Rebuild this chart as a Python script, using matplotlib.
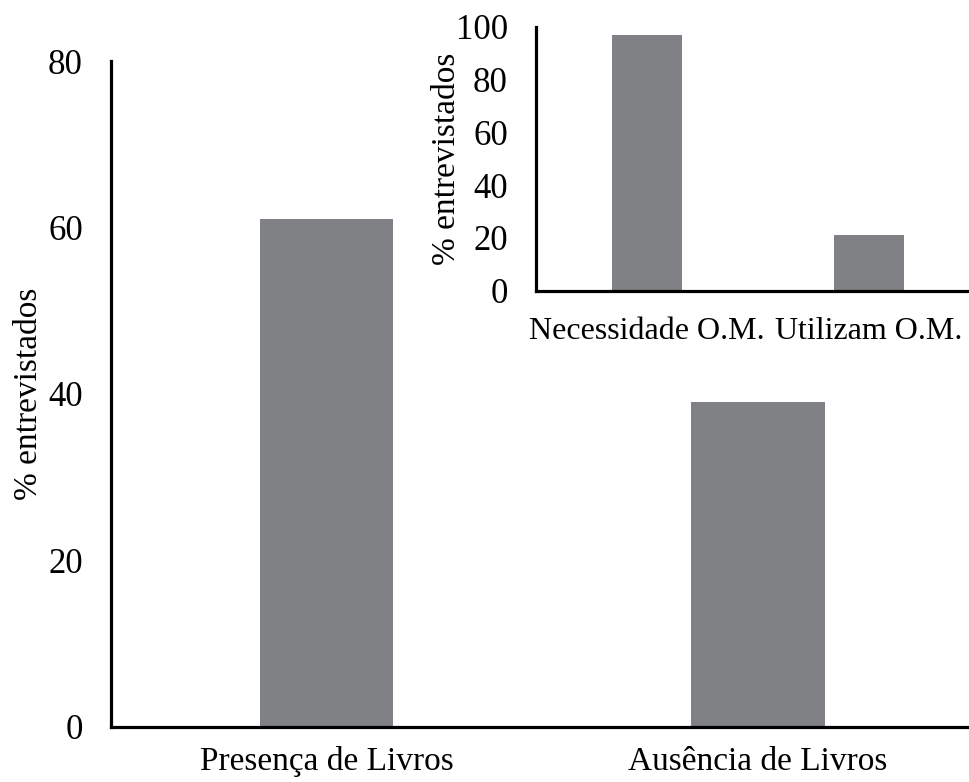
import matplotlib.pyplot as plt

plt.rcParams['font.family'] = ['Liberation Serif', 'DejaVu Serif']

# main chart
livros_cats = ['Presença de Livros', 'Ausência de Livros']
livros_vals = [61, 39]

# inset chart
om_cats = ['Necessidade O.M.', 'Utilizam O.M.']
om_vals = [97, 21]

bar_color = '#808184'
W, H = 970, 782

fig = plt.figure(figsize=(W / 100, H / 100), dpi=100)

def px_axes(left, bottom, right, top):
    return fig.add_axes([left / W, 1 - bottom / H, (right - left) / W, (bottom - top) / H])

def style(ax, fs):
    for s in ['top', 'right']:
        ax.spines[s].set_visible(False)
    for s in ['left', 'bottom']:
        ax.spines[s].set_linewidth(2.3)
    ax.tick_params(axis='both', length=0, labelsize=fs)

ax = px_axes(110.7, 726.7, 974, 61)
ax.bar(range(len(livros_cats)), livros_vals, width=0.31, color=bar_color)
ax.set_xlim(-0.5, 1.5)
ax.set_ylim(0, 80)
ax.set_yticks([0, 20, 40, 60, 80])
ax.set_xticks(range(len(livros_cats)))
ax.set_xticklabels(livros_cats)
style(ax, 25)
ax.tick_params(axis='y', pad=20)
ax.tick_params(axis='x', labelsize=24, pad=14)
ax.set_ylabel('% entrevistados', fontsize=24)
ax.yaxis.set_label_coords(-0.077, 0.5)

ins = px_axes(535.7, 290.7, 980, 26.7)
ins.bar(range(len(om_cats)), om_vals, width=0.315, color=bar_color)
ins.set_xlim(-0.5, 1.5)
ins.set_ylim(0, 100)
ins.set_yticks([0, 20, 40, 60, 80, 100])
ins.set_xticks(range(len(om_cats)))
ins.set_xticklabels(om_cats)
style(ins, 25)
ins.tick_params(axis='x', labelsize=23, pad=19)
ins.tick_params(axis='y', pad=20)
ins.set_ylabel('% entrevistados', fontsize=24)
ins.yaxis.set_label_coords(-0.166, 0.5)

fig.savefig('out.png', dpi=100)
